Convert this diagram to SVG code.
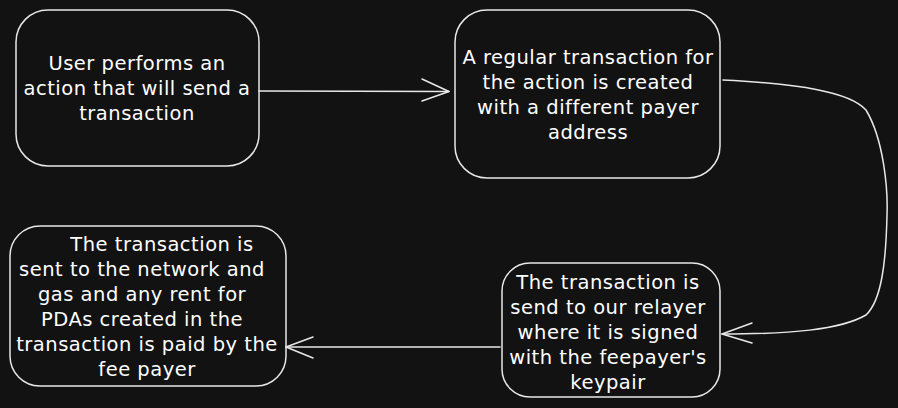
<svg xmlns="http://www.w3.org/2000/svg" width="898" height="408" viewBox="0 0 898 408">
<style>
.box{fill:#121212;stroke:#e8e8e8;stroke-width:1.5}
.t{fill:#ffffff;font-family:"DejaVu Sans","Liberation Sans",sans-serif;font-size:19.5px;letter-spacing:0.5px;text-anchor:middle;dominant-baseline:middle}
.c{fill:none;stroke:#e8e8e8;stroke-width:1.5;stroke-linecap:round;stroke-linejoin:round}
</style>
<rect width="898" height="408" fill="#121212"/>
<g id="node-user">
<rect class="box" x="16" y="10" width="243" height="156" rx="32"/>
<text class="t"><tspan x="137" y="64">User performs an</tspan><tspan x="137" y="89">action that will send a</tspan><tspan x="137" y="114">transaction</tspan></text>
</g>
<g id="node-regular">
<rect class="box" x="455" y="10" width="265" height="168" rx="32"/>
<text class="t"><tspan x="588" y="58">A regular transaction for</tspan><tspan x="588" y="83">the action is created</tspan><tspan x="588" y="108">with a different payer</tspan><tspan x="588" y="133">address</tspan></text>
</g>
<g id="node-relayer">
<rect class="box" x="502" y="263" width="218" height="134" rx="28"/>
<text class="t"><tspan x="608" y="283">The transaction is</tspan><tspan x="608" y="308">send to our relayer</tspan><tspan x="608" y="333">where it is signed</tspan><tspan x="608" y="358">with the feepayer's</tspan><tspan x="608" y="383">keypair</tspan></text>
</g>
<g id="node-network">
<rect class="box" x="10" y="226" width="276" height="160" rx="30"/>
<text class="t"><tspan x="162" y="245">The transaction is</tspan><tspan x="142" y="270">sent to the network and</tspan><tspan x="142" y="295">gas and any rent for</tspan><tspan x="142" y="320">PDAs created in the</tspan><tspan x="147" y="345">transaction is paid by the</tspan><tspan x="147" y="370">fee payer</tspan></text>
</g>
<g id="connectors">
<path class="c" d="M259 91 L449 91.5"/>
<path class="c" d="M422 79 L449 91.5 L422 101"/>
<path class="c" d="M723 80 C800 84 850 92 866 110 C884 140 888 190 887 215 C886 260 882 300 866 315 C840 330 790 334 722 334"/>
<path class="c" d="M752 323 L722 334 L752 343"/>
<path class="c" d="M500 347 L286 347"/>
<path class="c" d="M313 337 L286 347 L313 358"/>
</g>
</svg>
